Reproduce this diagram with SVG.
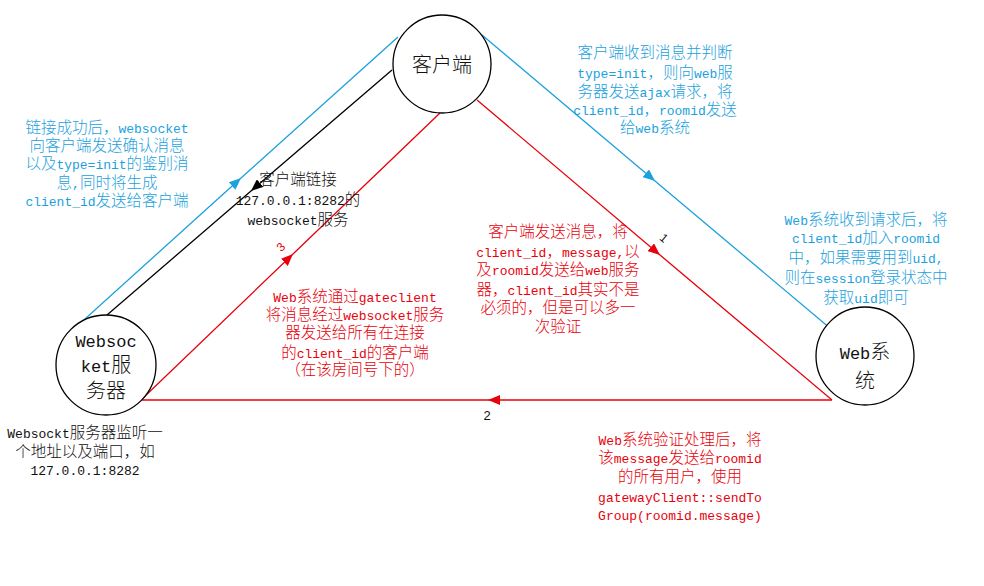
<svg xmlns="http://www.w3.org/2000/svg" width="984" height="586" viewBox="0 0 984 586">
<defs>
<marker id="ac" viewBox="0 0 12 10" refX="12" refY="5" markerWidth="12" markerHeight="10" markerUnits="userSpaceOnUse" orient="auto"><path d="M0,0 L12,5 L0,10 Z" fill="#1ba1dd"/></marker>
<marker id="ak" viewBox="0 0 12 10" refX="12" refY="5" markerWidth="12" markerHeight="10" markerUnits="userSpaceOnUse" orient="auto"><path d="M0,0 L12,5 L0,10 Z" fill="#000"/></marker>
<marker id="ar" viewBox="0 0 12 10" refX="12" refY="5" markerWidth="12" markerHeight="10" markerUnits="userSpaceOnUse" orient="auto"><path d="M0,0 L12,5 L0,10 Z" fill="#e8000b"/></marker>
</defs>
<style>
.node{fill:#fff;stroke:#000;stroke-width:1.3}
.nl{font-family:"Liberation Mono","Noto Sans CJK SC",monospace;font-size:20px;font-weight:300;fill:#111;text-anchor:middle}
.nl .m{font-size:17px;font-weight:400}
.t{font-family:"Liberation Mono","Noto Sans CJK SC",monospace;font-size:15.5px;font-weight:300;text-anchor:middle}
.m{font-size:13px;font-weight:400}
.c{fill:#1ba1dd}.r{fill:#e8000b}.k{fill:#111}
.lc{stroke:#1ba1dd;stroke-width:1.3;fill:none}
.lk{stroke:#000;stroke-width:1.3;fill:none}
.lr{stroke:#e8000b;stroke-width:1.3;fill:none}
</style>
<rect width="984" height="586" fill="#fff"/>
<g id="connectors">
<path class="lc" d="M75,328 L241,178 L398,37" marker-mid="url(#ac)"/>
<path class="lk" d="M392,70 L251,191 L107,315" marker-mid="url(#ak)"/>
<path class="lc" d="M482,35 L655,181 L831,329" marker-mid="url(#ac)"/>
<path class="lr" d="M477,100 L660,255 L832,400" marker-mid="url(#ar)"/>
<path class="lr" d="M832,400 L488,400 L142,400" marker-mid="url(#ar)"/>
<path class="lr" d="M142,399 L293,254 L440,113" marker-mid="url(#ar)"/>
<text x="664" y="242" font-family="Liberation Sans,sans-serif" font-size="12" fill="#111" text-anchor="middle" transform="rotate(40 664 238)">1</text>
<text x="487" y="420" font-family="Liberation Sans,sans-serif" font-size="13" fill="#111" text-anchor="middle">2</text>
<text x="281" y="251" font-family="Liberation Sans,sans-serif" font-size="12" fill="#e8000b" text-anchor="middle" transform="rotate(-44 281 247)">3</text>
</g>
<g id="client">
<circle class="node" cx="442" cy="64" r="49"/>
<text class="nl" x="442" y="72">客户端</text>
</g>
<g id="websocket">
<circle class="node" cx="106" cy="365" r="50"/>
<text class="nl" x="106" y="347"><tspan class="m">Websoc</tspan></text>
<text class="nl" x="106" y="372"><tspan class="m">ket</tspan>服</text>
<text class="nl" x="106" y="398">务器</text>
</g>
<g id="web">
<circle class="node" cx="865" cy="356" r="49"/>
<text class="nl" x="865" y="359"><tspan class="m">Web</tspan>系</text>
<text class="nl" x="865" y="388">统</text>
</g>
<g id="note-ws-ack">
<text class="t c" x="107" y="133">链接成功后，<tspan class="m">websocket</tspan></text>
<text class="t c" x="107" y="151">向客户端发送确认消息</text>
<text class="t c" x="107" y="169">以及<tspan class="m">type=init</tspan>的鉴别消</text>
<text class="t c" x="107" y="188">息<tspan class="m">,</tspan>同时将生成</text>
<text class="t c" x="107" y="206"><tspan class="m">client_id</tspan>发送给客户端</text>
</g>
<g id="note-client-link">
<text class="t k" x="298" y="185">客户端链接</text>
<text class="t k" x="298" y="205"><tspan class="m">127.0.0.1:8282</tspan>的</text>
<text class="t k" x="298" y="225"><tspan class="m">websocket</tspan>服务</text>
</g>
<g id="note-client-recv">
<text class="t c" x="655" y="58">客户端收到消息并判断</text>
<text class="t c" x="655" y="78"><tspan class="m">type=init</tspan>，则向<tspan class="m">web</tspan>服</text>
<text class="t c" x="655" y="97">务器发送<tspan class="m">ajax</tspan>请求，将</text>
<text class="t c" x="655" y="115"><tspan class="m">client_id</tspan>，<tspan class="m">roomid</tspan>发送</text>
<text class="t c" x="655" y="133">给<tspan class="m">web</tspan>系统</text>
</g>
<g id="note-web-recv">
<text class="t c" x="866" y="225"><tspan class="m">Web</tspan>系统收到请求后，将</text>
<text class="t c" x="866" y="243"><tspan class="m">client_id</tspan>加入<tspan class="m">roomid</tspan></text>
<text class="t c" x="866" y="263">中，如果需要用到<tspan class="m">uid,</tspan></text>
<text class="t c" x="866" y="283">则在<tspan class="m">session</tspan>登录状态中</text>
<text class="t c" x="866" y="303">获取<tspan class="m">uid</tspan>即可</text>
</g>
<g id="note-client-send">
<text class="t r" x="558" y="237">客户端发送消息，将</text>
<text class="t r" x="558" y="257"><tspan class="m">client_id</tspan>，<tspan class="m">message,</tspan>以</text>
<text class="t r" x="558" y="275">及<tspan class="m">roomid</tspan>发送给<tspan class="m">web</tspan>服务</text>
<text class="t r" x="558" y="295">器，<tspan class="m">client_id</tspan>其实不是</text>
<text class="t r" x="558" y="313">必须的，但是可以多一</text>
<text class="t r" x="558" y="332">次验证</text>
</g>
<g id="note-gateclient">
<text class="t r" x="355" y="302"><tspan class="m">Web</tspan>系统通过<tspan class="m">gateclient</tspan></text>
<text class="t r" x="355" y="320">将消息经过<tspan class="m">websocket</tspan>服务</text>
<text class="t r" x="355" y="338">器发送给所有在连接</text>
<text class="t r" x="355" y="358">的<tspan class="m">client_id</tspan>的客户端</text>
<text class="t r" x="355" y="375">（在该房间号下的）</text>
</g>
<g id="note-ws-listen">
<text class="t k" x="85" y="438"><tspan class="m">Websockt</tspan>服务器监听一</text>
<text class="t k" x="85" y="457">个地址以及端口，如</text>
<text class="t k" x="85" y="475"><tspan class="m">127.0.0.1:8282</tspan></text>
</g>
<g id="note-web-verify">
<text class="t r" x="680" y="445"><tspan class="m">Web</tspan>系统验证处理后，将</text>
<text class="t r" x="680" y="463">该<tspan class="m">message</tspan>发送给<tspan class="m">roomid</tspan></text>
<text class="t r" x="680" y="482">的所有用户，使用</text>
<text class="t r" x="680" y="502"><tspan class="m">gatewayClient::sendTo</tspan></text>
<text class="t r" x="680" y="520"><tspan class="m">Group(roomid.message)</tspan></text>
</g>
</svg>
